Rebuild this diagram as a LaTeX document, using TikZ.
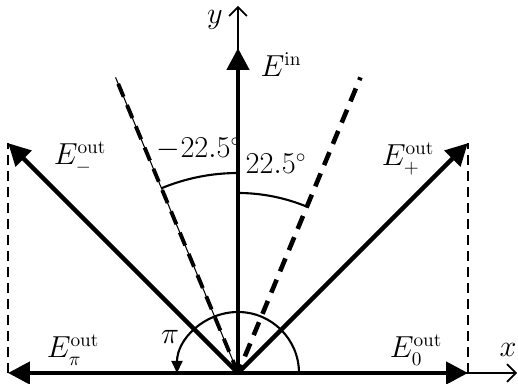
\documentclass[tikz,border=0pt]{standalone}
\usetikzlibrary{arrows.meta}
\tikzset{
  vec/.style={line width=2.6pt, -{Triangle[length=0.44cm,width=0.44cm]}},
  axis/.style={line width=1pt, -{Straight Barb[length=5pt,width=10pt]}},
  proj/.style={line width=1pt, dash pattern=on 0.2cm off 0.12cm},
  lbl/.style={font=\fontsize{16}{19}\selectfont, inner sep=1pt}
}
\begin{document}
\begin{tikzpicture}
  \useasboundingbox (-4.76,-0.22) rectangle (5.6,7.46);

  % origin and vector ends
  \coordinate (O) at (0,0);
  \coordinate (xend) at (5.58,0);
  \coordinate (yend) at (0,7.34);
  \coordinate (Ein) at (90:6.5);
  \coordinate (Eplus) at (45:6.5);
  \coordinate (Eminus) at (135:6.5);
  \coordinate (Ezero) at (4.6,0);
  \coordinate (Epi) at (-4.6,0);
  \coordinate (Rdash) at (67.5:6.4);
  \coordinate (Ldash) at (112.5:6.4);

  % axes
  \draw[axis] (O) -- (xend);
  \draw[axis] (O) -- (yend);

  % projections onto the x axis
  \draw[proj] (Ezero) -- (Eplus |- O) -- (Eplus);
  \draw[proj] (Eminus |- O) -- (Eminus);

  % polarizer directions
  \draw[line width=0.6pt] (O) -- (Ldash);
  \draw[line width=2.2pt, dash pattern=on 0.28cm off 0.18cm] (O) -- (Ldash);
  \draw[line width=2.6pt, dash pattern=on 0.28cm off 0.18cm, dash phase=0.1cm] (O) -- (Rdash);

  % field vectors
  \draw[vec] (O) -- (Ein);
  \draw[vec] (O) -- (Eplus);
  \draw[vec] (O) -- (Eminus);
  \draw[vec] (O) -- (Ezero);
  \draw[vec] (O) -- (Epi);

  % angle arcs
  \draw[line width=1.2pt] (90:4) arc[start angle=90, end angle=112.5, radius=4];
  \draw[line width=1.2pt] (90:3.6) arc[start angle=90, end angle=67.5, radius=3.6];
  \draw[line width=1.2pt, -{Triangle[length=0.24cm,width=0.22cm]}] (1.22,0) arc[start angle=0, end angle=180, radius=1.22];

  % labels
  \node[lbl] (xlab) at (5.4,0.46) {$x$};
  \node[lbl] (ylab) at (-0.46,7.06) {$y$};
  \node[lbl] (Einlab) at (0.86,6.16) {$E^{\mathrm{in}}$};
  \node[lbl] (Eminuslab) at (-3.16,4.3) {$E^{\mathrm{out}}_{-}$};
  \node[lbl] (Epluslab) at (3.4,4.28) {$E^{\mathrm{out}}_{+}$};
  \node[lbl] (Epilab) at (-3.3,0.46) {$E^{\mathrm{out}}_{\pi}$};
  \node[lbl] (Ezerolab) at (3.56,0.46) {$E^{\mathrm{out}}_{0}$};
  \node[lbl] (mlab) at (-0.78,4.48) {$-22.5^\circ$};
  \node[lbl] (plab) at (0.76,4.18) {$22.5^\circ$};
  \node[lbl] (pilab) at (-1.36,0.72) {$\pi$};
\end{tikzpicture}
\end{document}
